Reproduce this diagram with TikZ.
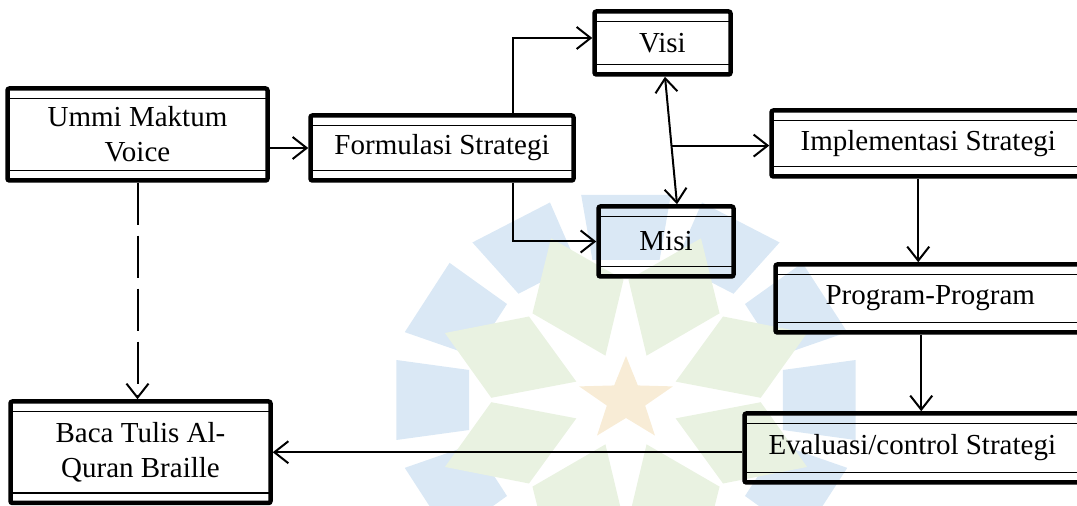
\documentclass[tikz,border=0pt]{standalone}
\usepackage{fontspec}
\setmainfont{Liberation Serif}
\usetikzlibrary{arrows.meta,positioning,calc}
\definecolor{wmblue}{RGB}{218,232,245}
\definecolor{wmgreen}{RGB}{233,242,225}
\definecolor{wmorange}{RGB}{248,236,214}
\tikzset{
stage/.style={draw,line width=4.5pt,rounded corners=2pt,inner sep=0pt,align=center,
  font=\fontsize{29}{35}\selectfont,
  path picture={\draw[line width=1.7pt]([yshift=-10pt]path picture bounding box.north west)--([yshift=-10pt]path picture bounding box.north east);
    \draw[line width=1.7pt]([yshift=10pt]path picture bounding box.south west)--([yshift=10pt]path picture bounding box.south east);}},
flow/.style={-{Straight Barb[length=14pt,width=22pt]},line width=2pt},
twoway/.style={{Straight Barb[length=14pt,width=22pt]}-{Straight Barb[length=14pt,width=22pt]},line width=2pt},
dashflow/.style={flow,dash pattern=on 42pt off 11pt}
}
\begin{document}
\begin{tikzpicture}[x=1pt,y=1pt]
\useasboundingbox(0,0)rectangle(1077,506);
\clip(0,0)rectangle(1077,506);
% faint watermark
\begin{scope}[shift={(626,106)},xscale=1.12]
\foreach \a in {0,30,...,330}\fill[wmblue,rotate=\a](140,-30)--(205,-40)--(205,40)--(140,30)--cycle;
\foreach \a in {22.5,67.5,...,337.5}\fill[wmgreen,rotate=\a](48,0)--(112,-44)--(175,0)--(112,44)--cycle;
\fill[wmorange](90:44)\foreach \k in {1,...,9}{--(90+\k*36:{ifthenelse(isodd(\k),18,44)})}--cycle;
\end{scope}
% boxes
\node[stage,minimum width=260pt,minimum height=92pt](ummi)at(137.5,371.5){Ummi Maktum\\Voice};
\node[stage,minimum width=263pt,minimum height=65pt](form)at(442,358){Formulasi Strategi};
\node[stage,minimum width=136pt,minimum height=63pt](visi)at(662.5,463){Visi};
\node[stage,minimum width=135pt,minimum height=70pt](misi)at(666,264.5){Misi};
\node[stage,minimum width=313.5pt,minimum height=66pt](impl)at(928.25,362.5){Implementasi Strategi};
\node[stage,minimum width=309.5pt,minimum height=68pt](prog)at(930.25,207.5){Program-Program};
\node[stage,minimum width=335.5pt,minimum height=69pt](eval)at(912.25,58){Evaluasi/control Strategi};
\node[stage,minimum width=260pt,minimum height=101.5pt](baca)at(140.5,53.75){Baca Tulis Al-\\Quran Braille};
% connectors
\draw[flow](ummi.east|-form.west)--(form.west);
\draw[flow]([xshift=71pt]form.north)|-([yshift=5pt]visi.west);
\draw[flow]([xshift=71pt]form.south)|-(misi.west);
\draw[twoway]([xshift=2.5pt]visi.south)--coordinate[pos=.54](vm)([xshift=11pt]misi.north);
\draw[flow](vm)--(vm-|impl.west);
\draw[flow]([xshift=-10pt]impl.south)--([xshift=-10pt]impl.south|-prog.north);
\draw[flow]([xshift=-9pt]prog.south)--([xshift=-9pt]prog.south|-eval.north);
\draw[flow](eval.west|-baca.east)--(baca.east);
\draw[dashflow](ummi.south)--(ummi.south|-baca.north);
\end{tikzpicture}
\end{document}
